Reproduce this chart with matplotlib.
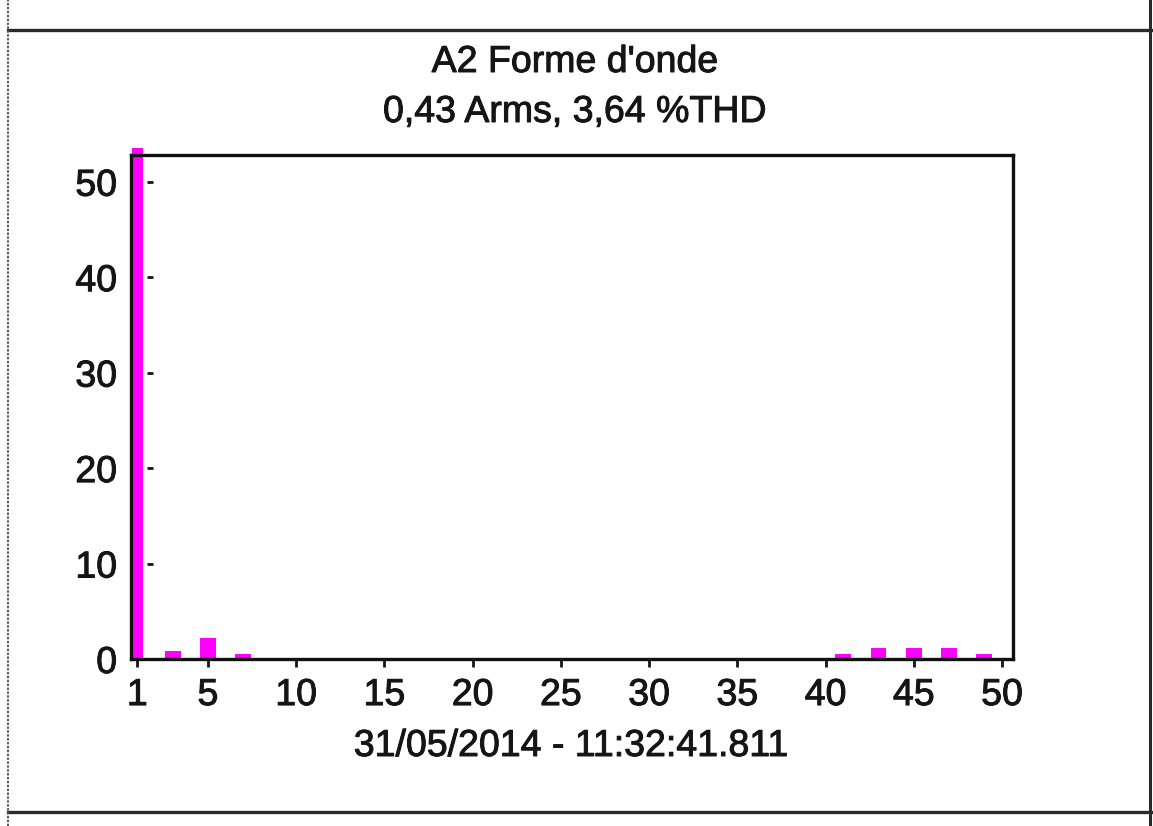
import matplotlib
matplotlib.use("Agg")
import matplotlib.pyplot as plt
from matplotlib.lines import Line2D
import matplotlib.patheffects as pe

plt.rcParams['font.family'] = ['Liberation Sans', 'DejaVu Sans']

# Harmonic spectrum (harmonic rank -> amplitude)
fundamental_rank = [1]
fundamental_value = [53.5]
harmonic_ranks = [3, 5, 7, 41, 43, 45, 47, 49]
harmonic_values = [0.85, 2.2, 0.5, 0.5, 1.15, 1.15, 1.15, 0.5]

x_ticks = [1, 5, 10, 15, 20, 25, 30, 35, 40, 45, 50]
y_ticks = [0, 10, 20, 30, 40, 50]

title_line1 = "A2 Forme d'onde"
title_line2 = "0,43 Arms, 3,64 %THD"
timestamp = "31/05/2014 - 11:32:41.811"

W, H = 1153, 826
fig = plt.figure(figsize=(W / 100, H / 100), dpi=100)
fig.patch.set_facecolor('white')

txt_col = '#151515'
fs = 27
heavy = [pe.withStroke(linewidth=0.7, foreground=txt_col)]


def fx(px):
    return px / W


def fy(py):
    return 1 - py / H


# outer panel frame
frame_col = '#2a2a2a'
fig.add_artist(Line2D([fx(8), fx(1153)], [fy(30), fy(30)], color=frame_col, lw=2.4))
fig.add_artist(Line2D([fx(8), fx(1153)], [fy(812), fy(812)], color=frame_col, lw=2.4))
fig.add_artist(Line2D([fx(8), fx(8)], [0, 1], color='#555555', lw=1.4, ls=(0, (1.2, 0.8))))
fig.add_artist(Line2D([fx(1150), fx(1150)], [0, 1], color=frame_col, lw=2.2))

ax = fig.add_axes([fx(131), fy(659), (1013 - 131) / W, (659 - 155) / H])
ax.set_facecolor('white')

mag = '#ff00ff'
ax.bar(harmonic_ranks, harmonic_values, width=0.9, color=mag, zorder=2)
ax.bar(fundamental_rank, fundamental_value, width=0.62, color=mag, zorder=2, clip_on=False)

ax.set_xlim(0.64, 50.62)
ax.set_ylim(0, 52.8)

ax.set_xticks(x_ticks)
ax.set_xticklabels([str(v) for v in x_ticks])
ax.set_yticks(y_ticks)
ax.set_yticklabels([str(v) for v in y_ticks])

ax.tick_params(axis='x', direction='out', length=6, width=2, pad=7,
               labelsize=fs, colors=txt_col)
ax.tick_params(axis='y', length=0, pad=10, labelsize=fs, colors=txt_col)
for lab in ax.get_xticklabels() + ax.get_yticklabels():
    lab.set_path_effects(heavy)

# small tick dashes just inside the left frame
ax.plot([0.0215] * len(y_ticks), y_ticks, transform=ax.get_yaxis_transform(),
        ls='none', marker='_', ms=4, mew=2, color=txt_col, zorder=3)

for s in ax.spines.values():
    s.set_linewidth(2.4)
    s.set_color('#111111')
    s.set_zorder(4)

for txt, xp, yp in [(title_line1, 575, 72), (title_line2, 575, 122), (timestamp, 571, 756)]:
    fig.text(fx(xp), fy(yp), txt, ha='center', va='baseline', fontsize=fs,
             color=txt_col, path_effects=heavy)

fig.savefig('out.png', dpi=100, facecolor='white')
